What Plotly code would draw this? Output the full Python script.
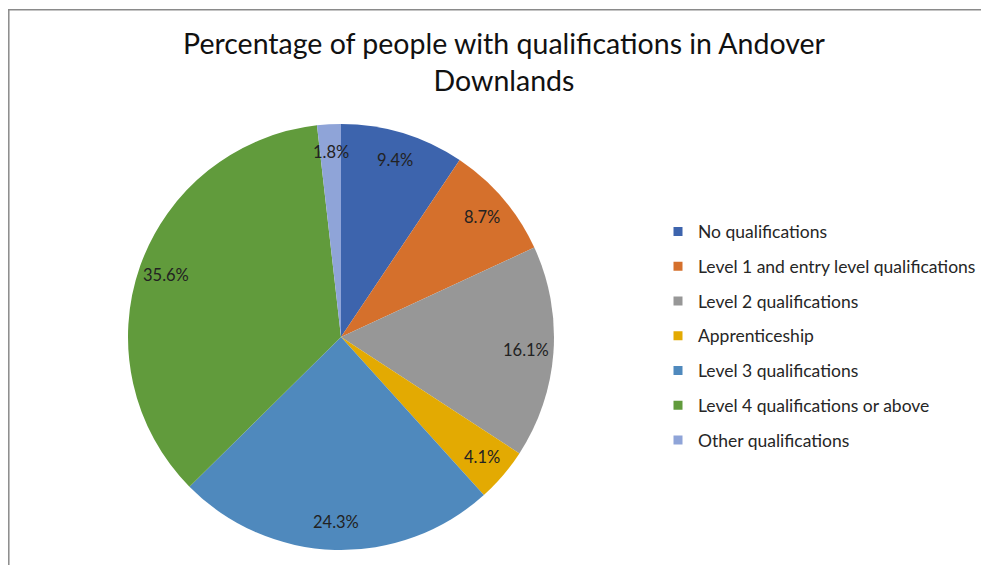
import math
import plotly.graph_objects as go

categories = ["No qualifications", "Level 1 and entry level qualifications", "Level 2 qualifications",
              "Apprenticeship", "Level 3 qualifications", "Level 4 qualifications or above",
              "Other qualifications"]
values = [9.4, 8.7, 16.1, 4.1, 24.3, 35.6, 1.8]
colors = ["#3d64ad", "#d5702c", "#979797", "#e3aa02", "#4f89bd", "#619b3c", "#8fa4d8"]
title_text = "Percentage of people with qualifications in Andover<br>Downlands"

W, H = 989, 565
FONT = "Lato"
CX, CY, R = 333, 329, 213  # pie centre / radius in figure pixels
LABEL_R = 0.87 * R

fig = go.Figure()
fig.add_trace(go.Pie(
    labels=categories, values=values, sort=False, direction="clockwise", rotation=0,
    marker=dict(colors=colors, line=dict(width=0)),
    textinfo="none", hoverinfo="label+percent",
    showlegend=False,
    domain=dict(x=[(CX - R) / W, (CX + R) / W], y=[(H - CY - R) / H, (H - CY + R) / H]),
))
for c, col in zip(categories, colors):
    fig.add_trace(go.Scatter(x=[None], y=[None], mode="markers", name=c, legendgroup=c,
                             marker=dict(symbol="square", size=9, color=col)))

# data labels placed at each slice's mid-angle, near the outer edge (Excel "best fit" look)
total = sum(values)
annotations = []
cum = 0.0
for v in values:
    theta = 2 * math.pi * (cum + v / 2) / total
    cum += v
    px = CX + LABEL_R * math.sin(theta)
    py = CY - LABEL_R * math.cos(theta)
    annotations.append(dict(x=px / W, y=1 - py / H, xref="paper", yref="paper",
                            xanchor="center", yanchor="middle",
                            text=f"{v:.1f}%", showarrow=False,
                            font=dict(family=FONT, size=16.5, color="#222222")))

fig.update_layout(
    width=W, height=H, margin=dict(l=0, r=0, t=0, b=0),
    paper_bgcolor="white", plot_bgcolor="rgba(0,0,0,0)",
    xaxis=dict(visible=False), yaxis=dict(visible=False),
    title=dict(text=title_text, x=496 / W, xanchor="center", y=1 - 46 / H, yanchor="top",
               font=dict(family=FONT, size=28.5, color="#111111")),
    legend=dict(x=650 / W, xanchor="left", y=1 - 205.5 / H, yanchor="top", tracegroupgap=9,
                font=dict(family=FONT, size=17.5, color="#262626"), bgcolor="rgba(0,0,0,0)"),
    annotations=annotations,
    shapes=[
        dict(type="line", xref="paper", yref="paper", x0=0, x1=1, y0=1 - 1.8 / H, y1=1 - 1.8 / H,
             line=dict(color="#8a8a8a", width=1.5)),
        dict(type="line", xref="paper", yref="paper", x0=0.8 / W, x1=0.8 / W, y0=0, y1=1 - 1.8 / H,
             line=dict(color="#8a8a8a", width=1.5)),
    ],
)
fig.write_html("out.html")
